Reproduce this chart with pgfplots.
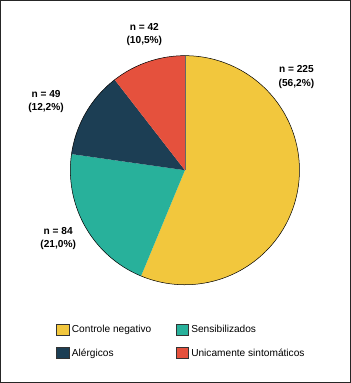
\documentclass[border=0pt]{standalone}
\usepackage{fontspec}
\setmainfont{Liberation Sans}
\usepackage{pgfplots}
\pgfplotsset{compat=1.18}
\definecolor{cYel}{RGB}{242,199,61}
\definecolor{cTeal}{RGB}{40,177,155}
\definecolor{cNavy}{RGB}{28,62,84}
\definecolor{cRed}{RGB}{229,81,61}
\begin{document}
\begin{tikzpicture}
\def\cx{185}\def\cy{213}\def\R{113}
% counts
\def\vA{225}\def\vB{84}\def\vC{49}\def\vD{42}
\pgfmathsetmacro\tot{\vA+\vB+\vC+\vD}
\pgfmathsetmacro\aA{90}
\pgfmathsetmacro\aB{\aA-\vA/\tot*360}
\pgfmathsetmacro\aC{\aB-\vB/\tot*360}
\pgfmathsetmacro\aD{\aC-\vC/\tot*360}
\pgfmathsetmacro\aE{\aD-\vD/\tot*360}
\begin{axis}[width=351pt,height=383pt,scale only axis,
  xmin=0,xmax=351,ymin=0,ymax=383,hide axis,clip=false,
  legend columns=2,
  legend cell align=left,
  legend image code/.code={\draw[#1,draw=black!80,line width=0.35pt] (0pt,-5.5pt) rectangle (12pt,5.5pt);},
  legend style={draw=none,fill=none,inner sep=0pt,
    at={(58/351,62/383)},anchor=north west,
    font=\fontsize{10}{12}\selectfont,
    row sep=10pt,
    /tikz/column 1/.style={column sep=1pt},
    /tikz/column 2/.style={column sep=22pt},
    /tikz/column 3/.style={column sep=1pt}},
]
\path[draw=black!85,line width=0.8pt] (axis cs:3,3.5) rectangle (axis cs:348,380.5);
\addplot[fill=cYel,draw=none,domain=\aB:\aA,samples=90] ({\cx+\R*cos(x)},{\cy+\R*sin(x)}) -- (axis cs:\cx,\cy) -- cycle;
\addlegendentry{Controle negativo}
\addplot[fill=cTeal,draw=none,domain=\aC:\aB,samples=40] ({\cx+\R*cos(x)},{\cy+\R*sin(x)}) -- (axis cs:\cx,\cy) -- cycle;
\addlegendentry{Sensibilizados}
\addplot[fill=cNavy,draw=none,domain=\aD:\aC,samples=30] ({\cx+\R*cos(x)},{\cy+\R*sin(x)}) -- (axis cs:\cx,\cy) -- cycle;
\addlegendentry{Alérgicos}
\addplot[fill=cRed,draw=none,domain=\aE:\aD,samples=30] ({\cx+\R*cos(x)},{\cy+\R*sin(x)}) -- (axis cs:\cx,\cy) -- cycle;
\addlegendentry{Unicamente sintomáticos}
\addplot[forget plot,black,line width=0.5pt,domain=0:360,samples=200] ({\cx+\R*cos(x)},{\cy+\R*sin(x)});
\addplot[forget plot,black!60,line width=0.4pt] coordinates {(185,213) (185,326)};
\begin{scope}[font=\bfseries\fontsize{10}{13}\selectfont,align=center]
\node at (axis cs:145,347) {n = 42\\(10,5\%)};
\node at (axis cs:295,305) {n = 225\\(56,2\%)};
\node at (axis cs:48,280.5) {n = 49\\(12,2\%)};
\node at (axis cs:60,145.5) {n = 84\\(21,0\%)};
\end{scope}
\end{axis}
\end{tikzpicture}
\end{document}
